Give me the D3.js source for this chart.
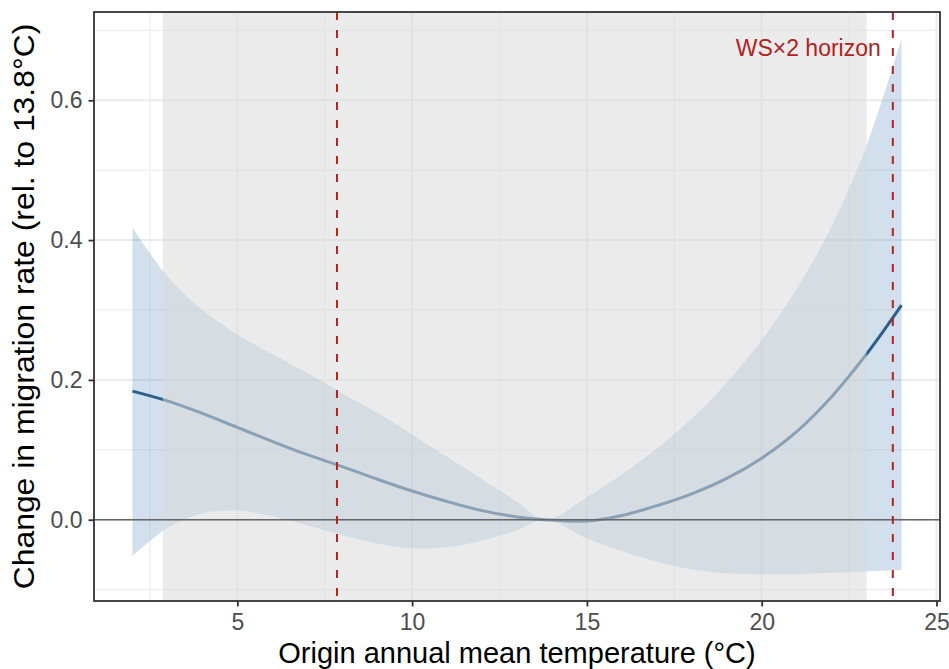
<!DOCTYPE html>
<html>
<head>
<meta charset="utf-8">
<script src="https://cdn.jsdelivr.net/npm/d3@7"></script>
<style>
  html, body { margin: 0; padding: 0; background: #ffffff; }
  svg { display: block; font-family: "Liberation Sans", Arial, Helvetica, sans-serif; }
</style>
</head>
<body>
<svg id="chart" width="949" height="669"></svg>
<script>
// ---- data ----
const temps      = [2, 3, 4, 5, 6, 7, 8, 9, 10, 11, 12, 13, 13.8, 15, 16, 17, 18, 19, 20, 21, 22, 23, 24];
const estimate   = [0.184, 0.170, 0.152, 0.132, 0.112, 0.093, 0.076, 0.058, 0.041, 0.026, 0.013, 0.004, 0.0, -0.002, 0.006, 0.020, 0.037, 0.059, 0.088, 0.126, 0.176, 0.237, 0.307];
const upperCI    = [0.418, 0.348, 0.300, 0.265, 0.237, 0.210, 0.181, 0.153, 0.122, 0.090, 0.058, 0.026, 0.0, 0.032, 0.065, 0.102, 0.145, 0.196, 0.257, 0.330, 0.420, 0.535, 0.688];
const lowerCI    = [-0.052, -0.012, 0.009, 0.013, 0.005, -0.008, -0.022, -0.034, -0.041, -0.039, -0.030, -0.015, 0.0, -0.027, -0.045, -0.060, -0.071, -0.077, -0.078, -0.078, -0.076, -0.074, -0.072];
const supportRange = [2.87, 23.0];          // shaded (greyed) common-support band
const horizons     = [7.85, 23.75];         // dashed reference lines
const horizonLabel = "WS×2 horizon";
const xTicks = [5, 10, 15, 20, 25];
const yTicks = [0.0, 0.2, 0.4, 0.6];
const xMinor = [2.5, 7.5, 12.5, 17.5, 22.5];
const yMinor = [-0.1, 0.1, 0.3, 0.5, 0.7];
const xTitle = "Origin annual mean temperature (°C)";
const yTitle = "Change in migration rate (rel. to 13.8°C)";

const rows = temps.map((t, i) => ({ t, est: estimate[i], lo: lowerCI[i], hi: upperCI[i] }));

// ---- layout ----
const svg = d3.select("#chart");
const P = { left: 94, right: 940, top: 12, bottom: 601 };

const xExt = d3.extent(temps);
const xPad = (xExt[1] - xExt[0]) * 0.05;
const yLo = d3.min(lowerCI), yHi = d3.max(upperCI);
const yPad = (yHi - yLo) * 0.05;

const x = d3.scaleLinear().domain([xExt[0] - xPad, xExt[1] + xPad]).range([P.left, P.right]);
const y = d3.scaleLinear().domain([yLo - yPad, yHi + yPad]).range([P.bottom, P.top]);

svg.append("defs").append("clipPath").attr("id", "clip")
  .append("rect").attr("x", P.left).attr("y", P.top)
  .attr("width", P.right - P.left).attr("height", P.bottom - P.top);

const panel = svg.append("g").attr("clip-path", "url(#clip)");

// background
panel.append("rect").attr("x", P.left).attr("y", P.top)
  .attr("width", P.right - P.left).attr("height", P.bottom - P.top).attr("fill", "#ffffff");

// minor grid
panel.selectAll(".xminor").data(xMinor).join("line")
  .attr("x1", d => x(d)).attr("x2", d => x(d)).attr("y1", P.top).attr("y2", P.bottom)
  .attr("stroke", "#ebebeb").attr("stroke-width", 1);
panel.selectAll(".yminor").data(yMinor).join("line")
  .attr("y1", d => y(d)).attr("y2", d => y(d)).attr("x1", P.left).attr("x2", P.right)
  .attr("stroke", "#ebebeb").attr("stroke-width", 1);
// major grid
panel.selectAll(".xmajor").data(xTicks).join("line")
  .attr("x1", d => x(d)).attr("x2", d => x(d)).attr("y1", P.top).attr("y2", P.bottom)
  .attr("stroke", "#ebebeb").attr("stroke-width", 2);
panel.selectAll(".ymajor").data(yTicks).join("line")
  .attr("y1", d => y(d)).attr("y2", d => y(d)).attr("x1", P.left).attr("x2", P.right)
  .attr("stroke", "#ebebeb").attr("stroke-width", 2);

// ribbon
const curve = d3.curveCatmullRom.alpha(0.5);
const area = d3.area().x(d => x(d.t)).y0(d => y(d.lo)).y1(d => y(d.hi)).curve(curve);
panel.append("path").datum(rows).attr("d", area)
  .attr("fill", "#4682b4").attr("fill-opacity", 0.25);

// estimate line
const line = d3.line().x(d => x(d.t)).y(d => y(d.est)).curve(curve);
panel.append("path").datum(rows).attr("d", line)
  .attr("fill", "none").attr("stroke", "#2c5f8a").attr("stroke-width", 3);

// grey overlay for support region
panel.append("rect")
  .attr("x", x(supportRange[0])).attr("y", P.top)
  .attr("width", x(supportRange[1]) - x(supportRange[0])).attr("height", P.bottom - P.top)
  .attr("fill", "#dadada").attr("fill-opacity", 0.54);

// zero line
panel.append("line").attr("x1", P.left).attr("x2", P.right)
  .attr("y1", y(0)).attr("y2", y(0)).attr("stroke", "#666666").attr("stroke-width", 1.5);

// dashed horizon lines
panel.selectAll(".hz").data(horizons).join("line")
  .attr("x1", d => x(d)).attr("x2", d => x(d)).attr("y1", P.top).attr("y2", P.bottom)
  .attr("stroke", "#b22222").attr("stroke-width", 2).attr("stroke-dasharray", "8,10");

// label
panel.append("text")
  .attr("x", x(horizons[1]) - 12).attr("y", 56)
  .attr("text-anchor", "end").attr("fill", "#b22222")
  .attr("font-size", 23).text(horizonLabel);

// panel border
svg.append("rect").attr("x", P.left).attr("y", P.top)
  .attr("width", P.right - P.left).attr("height", P.bottom - P.top)
  .attr("fill", "none").attr("stroke", "#333333").attr("stroke-width", 1.8);

// axes
const xAxis = svg.append("g").attr("transform", `translate(0,${P.bottom})`)
  .call(d3.axisBottom(x).tickValues(xTicks).tickFormat(d3.format("d")).tickSize(5.5).tickPadding(7));
const yAxis = svg.append("g").attr("transform", `translate(${P.left},0)`)
  .call(d3.axisLeft(y).tickValues(yTicks).tickFormat(d3.format(".1f")).tickSize(5.5).tickPadding(6));
[xAxis, yAxis].forEach(g => {
  g.select(".domain").remove();
  g.selectAll(".tick line").attr("stroke", "#333333").attr("stroke-width", 1.8);
  g.selectAll(".tick text").attr("fill", "#4d4d4d").attr("font-size", 23)
    .attr("font-family", "'Liberation Sans', Arial, sans-serif");
});

// titles
svg.append("text").attr("x", (P.left + P.right) / 2).attr("y", 663)
  .attr("text-anchor", "middle").attr("font-size", 29).attr("fill", "#000").text(xTitle);
svg.append("text")
  .attr("transform", `translate(34,${(P.top + P.bottom) / 2}) rotate(-90) scale(1.1,1)`)
  .attr("text-anchor", "middle").attr("font-size", 29).attr("fill", "#000").text(yTitle);
</script>
</body>
</html>
